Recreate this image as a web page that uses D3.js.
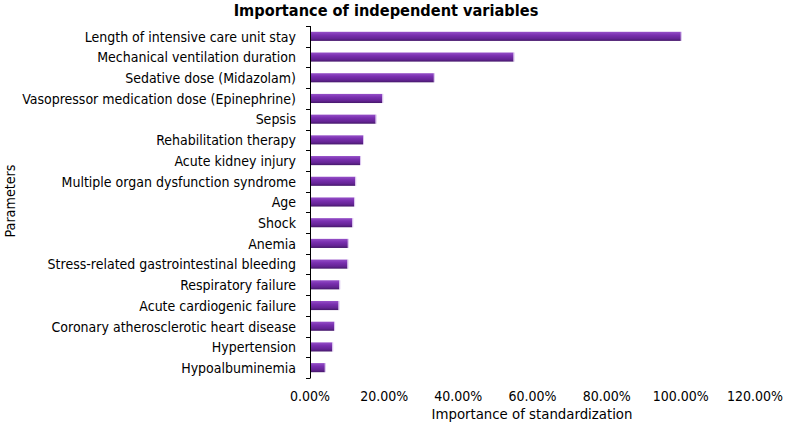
<!DOCTYPE html>
<html><head><meta charset="utf-8">
<script src="https://cdn.jsdelivr.net/npm/d3@7"></script>
<style>body{margin:0;background:#fff}svg{display:block}text{font-family:"DejaVu Sans Condensed","DejaVu Sans",sans-serif;fill:#000}</style>
</head><body><svg id="c" width="787" height="426"></svg>
<script>
const categories = ["Length of intensive care unit stay","Mechanical ventilation duration","Sedative dose (Midazolam)","Vasopressor medication dose (Epinephrine)","Sepsis","Rehabilitation therapy","Acute kidney injury","Multiple organ dysfunction syndrome","Age","Shock","Anemia","Stress-related gastrointestinal bleeding","Respiratory failure","Acute cardiogenic failure","Coronary atherosclerotic heart disease","Hypertension","Hypoalbuminemia"];
const values = [1.00,0.549,0.334,0.195,0.177,0.143,0.135,0.122,0.119,0.114,0.102,0.101,0.079,0.077,0.065,0.060,0.040];
const xTicks = [0,0.2,0.4,0.6,0.8,1.0,1.2];
const title = "Importance of independent variables";
const xTitle = "Importance of standardization";
const yTitle = "Parameters";

const svg = d3.select("#c");
const defs = svg.append("defs");
const g = defs.append("linearGradient").attr("id","bg").attr("x1",0).attr("y1",0).attr("x2",0).attr("y2",1);
g.append("stop").attr("offset","0%").attr("stop-color","#9550c8");
g.append("stop").attr("offset","35%").attr("stop-color","#7a30b0");
g.append("stop").attr("offset","75%").attr("stop-color","#642494");
g.append("stop").attr("offset","100%").attr("stop-color","#45186a");

const x = d3.scaleLinear().domain([0,1.2]).range([310,755]);
const y = d3.scaleBand().domain(categories).range([26,378]).paddingInner(0.56).paddingOuter(0.28);

svg.append("text").attr("x",386).attr("y",16).attr("text-anchor","middle")
  .style("font-size","16.2px").style("font-weight","bold").text(title);

// bars
svg.append("g").selectAll("rect").data(categories).join("rect")
  .attr("x",x(0)).attr("y",d=>y(d)).attr("width",(d,i)=>x(values[i])-x(0))
  .attr("height",y.bandwidth()).attr("fill","url(#bg)");
// right edge highlight
svg.append("g").selectAll("line").data(categories).join("line")
  .attr("x1",(d,i)=>x(values[i])+0.5).attr("x2",(d,i)=>x(values[i])+0.5)
  .attr("y1",d=>y(d)).attr("y2",d=>y(d)+y.bandwidth())
  .attr("stroke","#d9c2ee").attr("stroke-width",1);

// y axis line and ticks at category boundaries
const bounds = d3.range(categories.length+1).map(i=>26+i*(352/categories.length));
svg.append("line").attr("x1",310.5).attr("x2",310.5).attr("y1",26).attr("y2",378).attr("stroke","#000");
svg.append("g").selectAll("line").data(bounds).join("line")
  .attr("x1",306).attr("x2",310.5).attr("y1",d=>Math.round(d)+0.5).attr("y2",d=>Math.round(d)+0.5).attr("stroke","#000");

// category labels
svg.append("g").selectAll("text").data(categories).join("text")
  .attr("x",296).attr("y",d=>y(d)+y.bandwidth()/2).attr("dy","0.38em")
  .attr("text-anchor","end").style("font-size","14px").text(d=>d);

// x tick labels
svg.append("g").selectAll("text").data(xTicks).join("text")
  .attr("x",d=>x(d)).attr("y",401).attr("text-anchor","middle")
  .style("font-size","14px").text(d=>d3.format(".2%")(d));

svg.append("text").attr("x",532).attr("y",419).attr("text-anchor","middle").style("font-size","14.8px").text(xTitle);
svg.append("text").attr("transform","translate(15,201) rotate(-90)").attr("text-anchor","middle").style("font-size","14.2px").text(yTitle);
</script></body></html>
